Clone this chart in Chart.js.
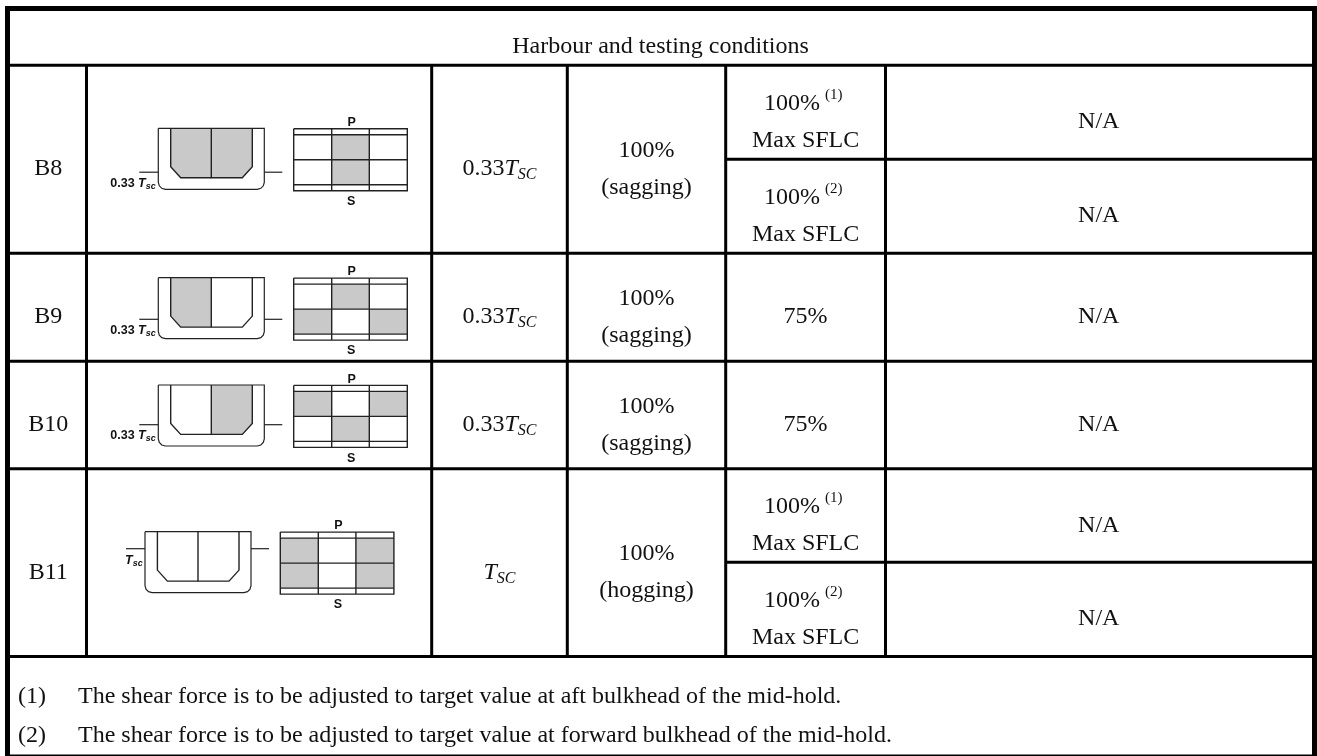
<!DOCTYPE html>
<html>
<head>
<meta charset="utf-8">
<title>Harbour and testing conditions</title>
<script src="https://cdn.jsdelivr.net/npm/chart.js@4/dist/chart.umd.min.js"></script>
<style>
html, body { margin: 0; padding: 0; background: #fff; overflow: hidden; }
canvas { display: block; }
</style>
</head>
<body>
<canvas id="tableChart" width="1317" height="756"></canvas>
<script>
// table contents
const tableTitle = 'Harbour and testing conditions';
const rowLabels = ['B8', 'B9', 'B10', 'B11'];
const draughtValues = ['0.33', '0.33', '0.33', ''];
const bendingPercent = ['100%', '100%', '100%', '100%'];
const bendingModes = ['(sagging)', '(sagging)', '(sagging)', '(hogging)'];
const shearLabels = ['100%', 'Max SFLC', '100%', 'Max SFLC', '75%', '75%', '100%', 'Max SFLC', '100%', 'Max SFLC'];
const footnoteMarks = ['(1)', '(2)'];
const footnotes = [
    'The shear force is to be adjusted to target value at aft bulkhead of the mid-hold.',
    'The shear force is to be adjusted to target value at forward bulkhead of the mid-hold.'
];

// table rules, in page units of the two linear scales
const columnRules = [86.5, 431.7, 567.3, 725.7, 885.5];
const rowRules = [65.3, 253.3, 361.3, 468.7, 656.5];
const splitRules = [159.3, 562.3];

// which side of the midship section and which plan cells are loaded, per row
const sectionFilled = [[0, 1], [0], [1], []];
const planFilled = [[1, 4], [1, 3, 5], [0, 2, 4], [0, 2, 3, 5]];

// schematic origin per row: hull left, hull top, plan left, waterline height
const hullLeft = [158.3, 158.3, 158.3, 145];
const hullTop = [128.3, 277.7, 385, 531.7];
const planLeft = [293.7, 293.7, 293.7, 280.3];
const waterLevel = [172.2, 319.3, 424.7, 548.7];

// outline of the hull and of one side tank, relative to the hull corner
const hullShape = [[0, 0], [0, 54], [1, 57.5], [3.5, 60], [7, 61], [99, 61], [102.5, 60], [105, 57.5], [106, 54], [106, 0], [0, 0]];
const leftTank = [[12.4, 0], [12.4, 38.4], [22.4, 49.4], [53, 49.4], [53, 0]];
const rightTank = [[53, 0], [53, 49.4], [84, 49.4], [94, 38.4], [94, 0]];
const planCols = [0, 38, 75.6, 113.6];
const planRows = [6, 31, 56];
const planHeight = 62;

const SERIF = '"Liberation Serif", "Times New Roman", serif';
const SANS = '"Liberation Sans", Arial, sans-serif';
const BODY_SIZE = 24;

function lineSet(points, width, color) {
    return {
        data: points.map(p => ({ x: p[0], y: p[1] })),
        showLine: true,
        borderColor: color || '#000',
        borderWidth: width,
        pointRadius: 0,
        tension: 0,
        fill: false,
        borderCapStyle: 'butt',
        borderJoinStyle: 'miter',
        clip: false
    };
}

function fillSet(points) {
    const set = lineSet(points.concat([points[0]]), 0, 'rgba(0,0,0,0)');
    set.fill = 'shape';
    set.backgroundColor = '#c9c9c9';
    return set;
}

function shifted(points, dx, dy) {
    return points.map(p => [p[0] + dx, p[1] + dy]);
}

function buildDatasets() {
    const sets = [];

    rowLabels.forEach((label, i) => {
        const hx = hullLeft[i], hy = hullTop[i], px = planLeft[i];
        // grey fills go first so the outlines stay on top
        sectionFilled[i].forEach(side => {
            sets.push(fillSet(shifted(side === 0 ? leftTank : rightTank, hx, hy)));
        });
        planFilled[i].forEach(cell => {
            const c = cell % 3, r = Math.floor(cell / 3);
            sets.push(fillSet(shifted([
                [planCols[c], planRows[r]], [planCols[c + 1], planRows[r]],
                [planCols[c + 1], planRows[r + 1]], [planCols[c], planRows[r + 1]]
            ], px, hy + 0.4)));
        });

        // midship section
        sets.push(lineSet(shifted(hullShape, hx, hy), 1.2, '#222'));
        sets.push(lineSet(shifted(leftTank.slice(0, 4), hx, hy), 1.4, '#222'));
        sets.push(lineSet(shifted(rightTank, hx, hy), 1.4, '#222'));
        sets.push(lineSet([[hx, waterLevel[i]], [hx - 19, waterLevel[i]]], 1.2, '#222'));
        sets.push(lineSet([[hx + 106, waterLevel[i]], [hx + 124, waterLevel[i]]], 1.2, '#222'));

        // plan view
        const top = hy + 0.4, bottom = top + planHeight;
        sets.push(lineSet([[px, top], [px + 113.6, top], [px + 113.6, bottom], [px, bottom], [px, top]], 1.4, '#222'));
        planRows.forEach(r => sets.push(lineSet([[px, top + r], [px + 113.6, top + r]], 1.4, '#222')));
        planCols.slice(1, 3).forEach(c => sets.push(lineSet([[px + c, top], [px + c, bottom]], 1.4, '#222')));
    });

    // table rules
    const tableTop = rowRules[0], tableBottom = rowRules[rowRules.length - 1];
    columnRules.forEach(x => sets.push(lineSet([[x, tableTop], [x, tableBottom]], 3)));
    rowRules.forEach(y => sets.push(lineSet([[8, y], [1314, y]], 3)));
    splitRules.forEach(y => sets.push(lineSet([[columnRules[3], y], [1314, y]], 3)));

    // outer frame
    sets.push(lineSet([[5, 8.5], [1317, 8.5]], 5));
    sets.push(lineSet([[7.5, 6], [7.5, 756]], 5));
    sets.push(lineSet([[1314.5, 6], [1314.5, 756]], 5));
    sets.push(lineSet([[5, 755.2], [1317, 755.2]], 1.6));
    // Chart.js paints the first dataset last, so flip to keep the fills underneath
    return sets.reverse();
}

// writes a run of mixed-style text centred on a scale position
function drawRuns(ctx, runs, cx, y, align) {
    let width = 0;
    runs.forEach(r => {
        ctx.font = r.font;
        width += ctx.measureText(r.text).width + (r.gap || 0);
    });
    let x = align === 'left' ? cx : cx - width / 2;
    ctx.textAlign = 'left';
    ctx.textBaseline = 'alphabetic';
    ctx.fillStyle = '#111';
    runs.forEach(r => {
        ctx.font = r.font;
        x += r.gap || 0;
        ctx.fillText(r.text, x, y + (r.dy || 0));
        x += ctx.measureText(r.text).width;
    });
}

function body(text) {
    return { text: text, font: BODY_SIZE + 'px ' + SERIF };
}

const tableText = {
    id: 'tableText',
    afterDatasetsDraw(chart) {
        const ctx = chart.ctx;
        const X = v => chart.scales.x.getPixelForValue(v);
        const Y = v => chart.scales.y.getPixelForValue(v);
        const rows = rowRules;
        const col = [(10 + columnRules[0]) / 2, (columnRules[1] + columnRules[2]) / 2,
            (columnRules[2] + columnRules[3]) / 2, (columnRules[3] + columnRules[4]) / 2,
            (columnRules[4] + 1312) / 2];

        ctx.save();
        drawRuns(ctx, [body(tableTitle)], X(660.5), Y(53));

        rowLabels.forEach((label, i) => {
            const mid = (rows[i] + rows[i + 1]) / 2;
            drawRuns(ctx, [body(label)], X(col[0]), Y(mid + 16));

            const draught = [body(draughtValues[i]),
                { text: 'T', font: 'italic ' + BODY_SIZE + 'px ' + SERIF },
                { text: 'SC', font: 'italic 16px ' + SERIF, dy: 4 }];
            drawRuns(ctx, draught, X(col[1]), Y(mid + 16));

            drawRuns(ctx, [body(bendingPercent[i])], X(col[2]), Y(mid - 2.5));
            drawRuns(ctx, [body(bendingModes[i])], X(col[2]), Y(mid + 34.5));

            // schematic labels
            const hx = hullLeft[i], hy = hullTop[i], px = planLeft[i];
            const tagBold = 'bold 12.5px ' + SANS;
            drawRuns(ctx, [{ text: 'P', font: tagBold }], X(px + 58), Y(hy - 2.3));
            drawRuns(ctx, [{ text: 'S', font: tagBold }], X(px + 57.5), Y(hy + 76.7));
            const tsc = [{ text: 'T', font: 'italic bold 12.5px ' + SANS },
                { text: 'sc', font: 'italic bold 9px ' + SANS, dy: 2 }];
            if (draughtValues[i]) {
                drawRuns(ctx, [{ text: draughtValues[i] + ' ', font: tagBold }].concat(tsc), X(hx - 48), Y(waterLevel[i] + 14.3), 'left');
            } else {
                drawRuns(ctx, tsc, X(hx - 20), Y(waterLevel[i] + 15.6), 'left');
            }
        });

        // shear force column
        let k = 0;
        const blocks = [[rows[0], splitRules[0]], [splitRules[0], rows[1]], [rows[1], rows[2]], [rows[2], rows[3]], [rows[3], splitRules[1]], [splitRules[1], rows[4]]];
        const marks = ['(1)', '(2)', null, null, '(1)', '(2)'];
        blocks.forEach((b, j) => {
            const mid = (b[0] + b[1]) / 2;
            drawRuns(ctx, [body('N/A')], X(col[4]), Y(mid + 16));
            if (marks[j]) {
                drawRuns(ctx, [body(shearLabels[k]),
                    { text: marks[j], font: '15px ' + SERIF, dy: -11, gap: 5 }], X(764), Y(mid - 2.5), 'left');
                drawRuns(ctx, [body(shearLabels[k + 1])], X(col[3]), Y(mid + 34.5));
                k += 2;
            } else {
                drawRuns(ctx, [body(shearLabels[k])], X(col[3]), Y(mid + 16));
                k += 1;
            }
        });

        footnotes.forEach((note, i) => {
            drawRuns(ctx, [body(footnoteMarks[i])], X(18), Y(703 + i * 39), 'left');
            drawRuns(ctx, [body(note)], X(78), Y(703 + i * 39), 'left');
        });
        ctx.restore();
    }
};

new Chart(document.getElementById('tableChart').getContext('2d'), {
    type: 'scatter',
    data: { datasets: buildDatasets() },
    options: {
        responsive: false,
        animation: false,
        layout: { padding: 0 },
        plugins: { legend: { display: false }, tooltip: { enabled: false } },
        scales: {
            x: { type: 'linear', display: false, min: 0, max: 1317 },
            y: { type: 'linear', display: false, reverse: true, min: 0, max: 756 }
        }
    },
    plugins: [tableText]
});
</script>
</body>
</html>
